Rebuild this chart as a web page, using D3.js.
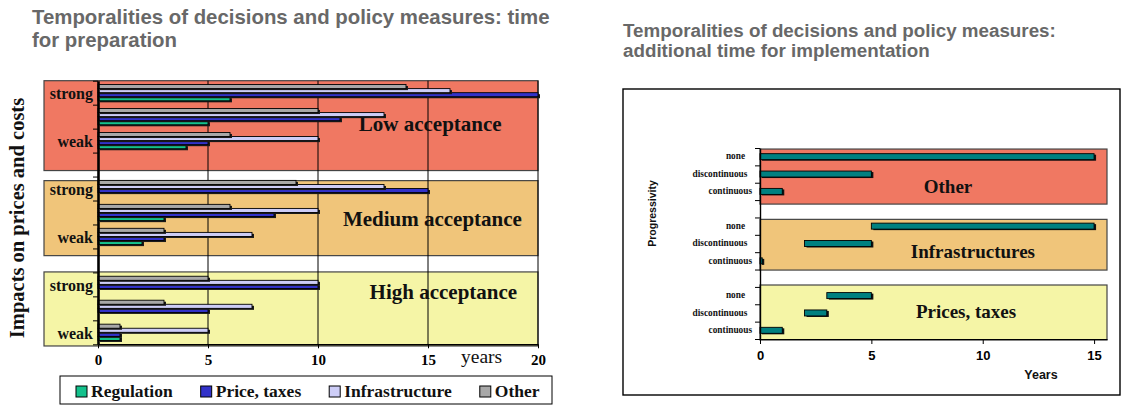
<!DOCTYPE html>
<html>
<head>
<meta charset="utf-8">
<script src="https://cdn.jsdelivr.net/npm/d3@7"></script>
<style>
  html, body { margin: 0; padding: 0; background: #fff; }
  svg { display: block; }
  .pre { white-space: pre; }
</style>
</head>
<body>
<svg id="chart" width="1123" height="405"></svg>
<script>
// ---- Time for preparation (years): three rows per acceptance level ----
const prepGroups = ["Low acceptance", "Medium acceptance", "High acceptance"];
const prepLevels = ["strong", "", "weak"];
const prepSeries = ["Regulation", "Price, taxes", "Infrastructure", "Other"];
const prepRegulation    = [6, 5, 4,   0, 3, 2,   0, 0, 1];
const prepPrice         = [20, 11, 5, 15, 8, 3,  10, 5, 1];
const prepInfrastructure= [16, 13, 10, 13, 10, 7, 10, 7, 5];
const prepOther         = [14, 10, 6,  9, 6, 3,   5, 3, 1];
const prepTicks = [0, 5, 10, 15, 20];

// ---- Additional time for implementation: bars run from start to end year ----
const implGroups = ["Other", "Infrastructures", "Prices, taxes"];
const implLevels = ["none   ", "discontinuous  ", "continuous"];
const implStart = [0, 0, 0,  5, 2, 0,    3, 2, 0];
const implEnd   = [15, 5, 1, 15, 5, 0.1, 5, 3, 1];
const implTicks = [0, 5, 10, 15];

const svg = d3.select("#chart");
const serif = "'Liberation Serif', 'Times New Roman', serif";
const sans = "'Liberation Sans', Arial, sans-serif";
const bandColors = ["#f07862", "#f0c57a", "#f5f5a6"];

// row index inside an 11-row layout: 3 rows per group + 1 blank row between groups
const rowOf = i => Math.floor(i / 3) * 4 + (i % 3);

// ================= Left chart =================
svg.append("text").attr("x", 32).attr("y", 24)
  .attr("font-family", sans).attr("font-weight", "bold").attr("font-size", 20.4)
  .attr("fill", "#686868").text("Temporalities of decisions and policy measures: time");
svg.append("text").attr("x", 32).attr("y", 47)
  .attr("font-family", sans).attr("font-weight", "bold").attr("font-size", 20.4)
  .attr("fill", "#686868").text("for preparation");

const xL = d3.scaleLinear().domain([0, 20]).range([98, 538]);
const yL = d3.scaleLinear().domain([0, 11]).range([80.7, 344.3]);

// acceptance bands (row extents) with their captions
const bandsL = [
  { name: prepGroups[0], r0: 0,    r1: 3.75, lx: 15.1, ly: 1.78 },
  { name: prepGroups[1], r0: 4.17, r1: 7.3,  lx: 15.2, ly: 5.74 },
  { name: prepGroups[2], r0: 7.98, r1: 11.07, lx: 15.7, ly: 8.81 }
];
const gL = svg.append("g");
gL.selectAll("rect.band").data(bandsL).join("rect").attr("class", "band")
  .attr("x", 44).attr("width", xL(20) - 44)
  .attr("y", d => yL(d.r0)).attr("height", d => yL(d.r1) - yL(d.r0))
  .attr("fill", (d, i) => bandColors[i]).attr("stroke", "#444").attr("stroke-width", 1.2);

// vertical gridlines
gL.selectAll("line.grid").data(prepTicks.filter(t => t > 0)).join("line").attr("class", "grid")
  .attr("x1", d => xL(d)).attr("x2", d => xL(d))
  .attr("y1", yL(0)).attr("y2", yL(11)).attr("stroke", "#000").attr("stroke-width", 1);

// bars
const seriesValues = {
  "Regulation": prepRegulation, "Price, taxes": prepPrice,
  "Infrastructure": prepInfrastructure, "Other": prepOther
};
const seriesColors = {
  "Regulation": "#14c18c", "Price, taxes": "#3232c9",
  "Infrastructure": "#cdcdf7", "Other": "#a8a8a8"
};
const rowH = yL(1) - yL(0);
const inner = d3.scaleBand()
  .domain(["Other", "Infrastructure", "Price, taxes", "Regulation"])
  .range([rowH * 0.16, rowH * 0.84]);
const barsL = [];
prepSeries.forEach(s => seriesValues[s].forEach((v, i) => {
  if (v > 0) barsL.push({ s, v, r: rowOf(i) });
}));
const barG = gL.selectAll("g.bar").data(barsL).join("g").attr("class", "bar");
barG.append("rect")
  .attr("x", xL(0) + 2).attr("y", d => yL(d.r) + inner(d.s) + 1.5)
  .attr("width", d => xL(d.v) - xL(0)).attr("height", inner.bandwidth())
  .attr("fill", "#1a1a1a");
barG.append("rect")
  .attr("x", xL(0)).attr("y", d => yL(d.r) + inner(d.s))
  .attr("width", d => xL(d.v) - xL(0)).attr("height", inner.bandwidth())
  .attr("fill", d => seriesColors[d.s]).attr("stroke", "#000").attr("stroke-width", 0.9);

// band captions
gL.selectAll("text.cap").data(bandsL).join("text").attr("class", "cap")
  .attr("x", d => xL(d.lx)).attr("y", d => yL(d.ly)).attr("dy", "0.35em")
  .attr("text-anchor", "middle").attr("font-family", serif).attr("font-weight", "bold")
  .attr("font-size", 21).attr("fill", "#111").text(d => d.name);

// axes
const yAxisL = gL.append("g").attr("transform", `translate(${xL(0)},0)`)
  .call(d3.axisLeft(yL).tickValues(d3.range(12)).tickFormat("").tickSize(5).tickSizeOuter(0));
yAxisL.select(".domain").attr("stroke", "#000").attr("stroke-width", 2.6);
yAxisL.selectAll(".tick line").attr("stroke", "#000");

const xAxisL = gL.append("g").attr("transform", `translate(0,${yL(11)})`)
  .call(d3.axisBottom(xL).tickValues(prepTicks).tickSize(4).tickPadding(6).tickSizeOuter(0));
xAxisL.select(".domain").attr("stroke", "#000").attr("stroke-width", 1.5);
xAxisL.selectAll(".tick line").attr("stroke", "#000");
xAxisL.selectAll(".tick text").attr("font-family", serif).attr("font-weight", "bold")
  .attr("font-size", 15).attr("fill", "#000");

// row labels
const levelRowsL = [];
prepGroups.forEach((g, gi) => prepLevels.forEach((lv, li) => {
  if (lv) levelRowsL.push({ lv, r: rowOf(gi * 3 + li) });
}));
gL.selectAll("text.lvl").data(levelRowsL).join("text").attr("class", "lvl")
  .attr("x", 93).attr("y", d => yL(d.r + 0.5)).attr("dy", "0.42em")
  .attr("text-anchor", "end").attr("font-family", serif).attr("font-weight", "bold")
  .attr("font-size", 16).attr("fill", "#111").text(d => d.lv);

gL.append("text").attr("x", 461).attr("y", 363)
  .attr("font-family", serif).attr("font-size", 19.5).attr("fill", "#111").text("years");

gL.append("text").attr("transform", "translate(24,218) rotate(-90)")
  .attr("text-anchor", "middle").attr("font-family", serif).attr("font-weight", "bold")
  .attr("font-size", 20.5).attr("fill", "#111").text("Impacts on prices and costs");

// legend
const legend = gL.append("g");
legend.append("rect").attr("x", 60).attr("y", 376).attr("width", 492).attr("height", 28)
  .attr("fill", "#fff").attr("stroke", "#000").attr("stroke-width", 1);
let lx = 76;
prepSeries.forEach(s => {
  legend.append("rect").attr("x", lx).attr("y", 386).attr("width", 11).attr("height", 11)
    .attr("fill", seriesColors[s]).attr("stroke", "#000").attr("stroke-width", 1);
  const t = legend.append("text").attr("x", lx + 15).attr("y", 397)
    .attr("font-family", serif).attr("font-weight", "bold").attr("font-size", 17.5)
    .attr("fill", "#111").text(s);
  lx += 15 + t.node().getComputedTextLength() + 28;
});

// ================= Right chart =================
svg.append("text").attr("x", 623).attr("y", 37)
  .attr("font-family", sans).attr("font-weight", "bold").attr("font-size", 18.8)
  .attr("fill", "#686868").text("Temporalities of decisions and policy measures:");
svg.append("text").attr("x", 623).attr("y", 57)
  .attr("font-family", sans).attr("font-weight", "bold").attr("font-size", 18.8)
  .attr("fill", "#686868").text("additional time for implementation");

svg.append("rect").attr("x", 623).attr("y", 89).attr("width", 497).attr("height", 306)
  .attr("fill", "#fff").attr("stroke", "#000").attr("stroke-width", 1.4);

const xR = d3.scaleLinear().domain([0, 15.58]).range([760, 1107]);
const yR = d3.scaleLinear().domain([0, 11]).range([148, 339]);
const gR = svg.append("g");

const bandsR = [
  { name: implGroups[0], r0: 0.06, r1: 3.23, lx: 8.44, ly: 2.19 },
  { name: implGroups[1], r0: 4.11, r1: 7.03, lx: 9.56, ly: 5.93 },
  { name: implGroups[2], r0: 7.89, r1: 11.06, lx: 9.25, ly: 9.39 }
];
gR.selectAll("rect.band").data(bandsR).join("rect").attr("class", "band")
  .attr("x", xR(0)).attr("width", xR(15.58) - xR(0))
  .attr("y", d => yR(d.r0)).attr("height", d => yR(d.r1) - yR(d.r0))
  .attr("fill", (d, i) => bandColors[i]).attr("stroke", "#444").attr("stroke-width", 1.2);

const barsR = implStart.map((s, i) => ({ s, e: implEnd[i], r: rowOf(i) }));
const barHR = 6;
const bR = gR.selectAll("g.bar").data(barsR).join("g").attr("class", "bar");
bR.append("rect")
  .attr("x", d => xR(d.s) + 2).attr("y", d => yR(d.r + 0.5) - barHR / 2 + 1)
  .attr("width", d => xR(d.e) - xR(d.s)).attr("height", barHR).attr("fill", "#111");
bR.append("rect")
  .attr("x", d => xR(d.s)).attr("y", d => yR(d.r + 0.5) - barHR / 2)
  .attr("width", d => xR(d.e) - xR(d.s)).attr("height", barHR)
  .attr("fill", "#008080").attr("stroke", "#000").attr("stroke-width", 0.9);

gR.selectAll("text.cap").data(bandsR).join("text").attr("class", "cap")
  .attr("x", d => xR(d.lx)).attr("y", d => yR(d.ly)).attr("dy", "0.35em")
  .attr("text-anchor", "middle").attr("font-family", serif).attr("font-weight", "bold")
  .attr("font-size", 19).attr("fill", "#111").text(d => d.name);

const yAxisR = gR.append("g").attr("transform", `translate(${xR(0)},0)`)
  .call(d3.axisLeft(yR).tickValues(d3.range(12)).tickFormat("").tickSize(5).tickSizeOuter(0));
yAxisR.select(".domain").attr("stroke", "#000").attr("stroke-width", 1.4);
yAxisR.selectAll(".tick line").attr("stroke", "#000");

const xAxisR = gR.append("g").attr("transform", `translate(0,${yR(11)})`)
  .call(d3.axisBottom(xR).tickValues(implTicks).tickSize(5).tickPadding(7).tickSizeOuter(0));
xAxisR.select(".domain").attr("stroke", "#000").attr("stroke-width", 1.2);
xAxisR.selectAll(".tick line").attr("stroke", "#000");
xAxisR.selectAll(".tick text").attr("font-family", sans).attr("font-weight", "bold")
  .attr("font-size", 13).attr("fill", "#000");

const levelRowsR = [];
implGroups.forEach((g, gi) => implLevels.forEach((lv, li) => {
  levelRowsR.push({ lv, r: rowOf(gi * 3 + li) });
}));
gR.selectAll("text.lvl").data(levelRowsR).join("text").attr("class", "lvl pre")
  .attr("x", 752).attr("y", d => yR(d.r + 0.5)).attr("dy", "0.3em")
  .attr("text-anchor", "end").attr("font-family", serif).attr("font-weight", "bold")
  .attr("font-size", 9.3).attr("fill", "#111").text(d => d.lv);

gR.append("text").attr("x", 1041).attr("y", 379).attr("text-anchor", "middle")
  .attr("font-family", sans).attr("font-weight", "bold").attr("font-size", 12.5)
  .attr("fill", "#111").text("Years");

gR.append("text").attr("transform", "translate(656,213.5) rotate(-90)")
  .attr("text-anchor", "middle").attr("font-family", sans).attr("font-weight", "bold")
  .attr("font-size", 10.5).attr("fill", "#111").text("Progressivity");
</script>
</body>
</html>
